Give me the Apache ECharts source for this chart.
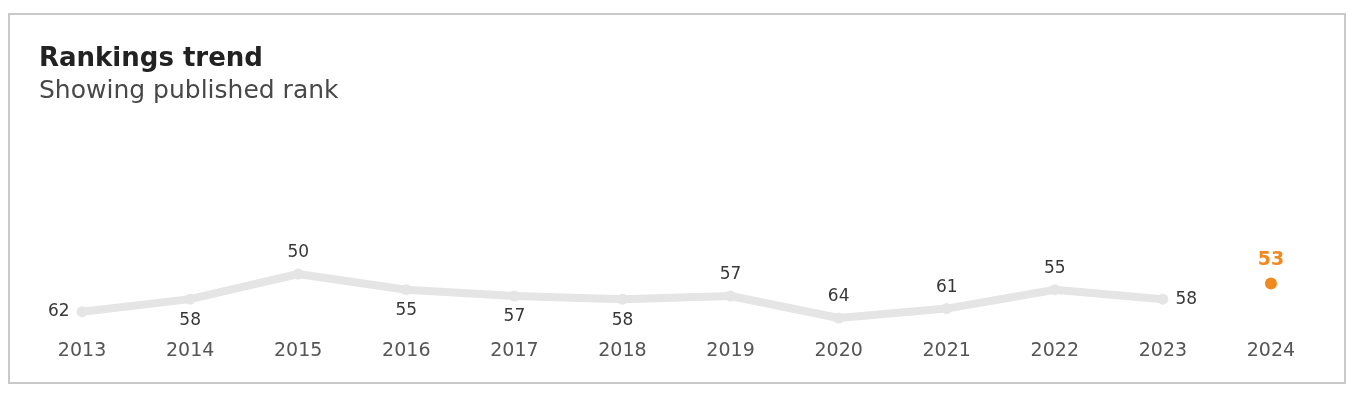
<!DOCTYPE html>
<html><head><meta charset="utf-8">
<script src="https://cdn.jsdelivr.net/npm/echarts@6/dist/echarts.min.js"></script>
<style>html,body{margin:0;padding:0;background:#fff}#c{width:1360px;height:405px}</style>
</head><body><div id="c"></div>
<script>
const years = ['2013','2014','2015','2016','2017','2018','2019','2020','2021','2022','2023','2024'];
const ranks = [62, 58, 50, 55, 57, 58, 57, 64, 61, 55, 58, null];
const labelPos = ['left','bottom','top','bottom','bottom','bottom','top','top','top','top','right','top'];
const currentRank = [null, null, null, null, null, null, null, null, null, null, null, 53];

const chart = echarts.init(document.getElementById('c'));
const font = 'DejaVu Sans';
chart.setOption({
  animation: false,
  textStyle: { fontFamily: font },
  title: {
    text: 'Rankings trend', subtext: 'Showing published rank',
    left: 34, top: 41, itemGap: 7,
    textStyle: { fontFamily: font, fontSize: 26, fontWeight: 'bold', color: '#222' },
    subtextStyle: { fontFamily: font, fontSize: 25, color: '#484848' }
  },
  graphic: [{ type: 'rect', shape: { x: 9, y: 14, width: 1336, height: 369 },
    style: { fill: 'none', stroke: '#c9c9c9', lineWidth: 2 }, silent: true }],
  grid: { left: 28, right: 35, top: 274, bottom: 87 },
  xAxis: {
    type: 'category', data: years, boundaryGap: true,
    axisLine: { show: false }, axisTick: { show: false },
    axisLabel: { margin: 24, fontSize: 19, color: '#555', fontFamily: font }
  },
  yAxis: { type: 'value', inverse: true, min: 50, max: 64, show: false },
  series: [{
    type: 'line', data: ranks.map((v, i) => ({ value: v, label: { position: labelPos[i] } })),
    lineStyle: { color: '#e5e5e5', width: 8 },
    itemStyle: { color: '#e5e5e5' },
    symbol: 'circle', symbolSize: 11,
    label: { show: true, fontSize: 17, color: '#383838', distance: 7, fontFamily: font }
  }, {
    type: 'line', data: currentRank, symbol: 'circle', symbolSize: 12,
    lineStyle: { width: 0 }, itemStyle: { color: '#f0891e' },
    label: { show: true, position: 'top', distance: 8, fontSize: 19, fontWeight: 'bold', color: '#f0891e', fontFamily: font }
  }]
});
</script></body></html>
